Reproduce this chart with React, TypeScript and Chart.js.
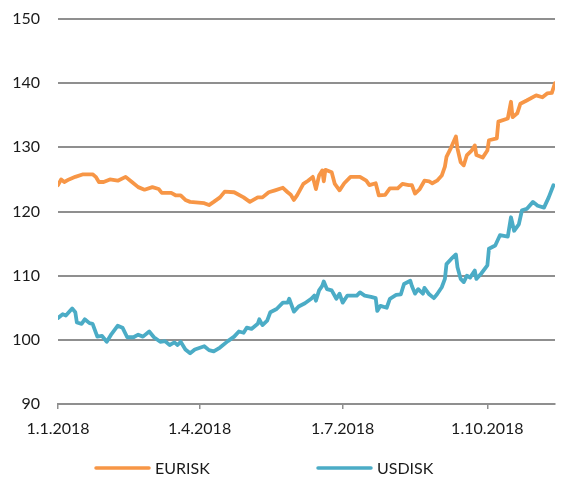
import React, { useEffect, useRef } from "react";
import { Chart, registerables } from "chart.js";

Chart.register(...registerables);

// Days since 1.1.2018
const eurDays = [0, 2, 4, 7, 11, 16, 22, 24, 26, 29, 33, 38, 43, 47, 51, 55, 60, 64, 66, 72, 75, 78, 81, 84, 93, 96, 99, 103, 106, 112, 118, 122, 127, 130, 134, 138, 143, 146, 148, 150, 152, 154, 156, 159, 162, 164, 166, 168, 169, 170, 174, 176, 179, 182, 186, 192, 196, 198, 202, 204, 208, 211, 216, 219, 223, 225, 227, 230, 233, 236, 238, 241, 244, 246, 247, 250, 253, 254, 256, 258, 260, 263, 265, 266, 270, 273, 274, 279, 280, 286, 288, 289, 292, 294, 298, 304, 308, 311, 314, 316];
const eurValues = [124.1, 125.0, 124.6, 125.0, 125.4, 125.8, 125.8, 125.4, 124.6, 124.6, 125.0, 124.8, 125.4, 124.6, 123.8, 123.4, 123.8, 123.5, 122.9, 122.9, 122.5, 122.5, 121.8, 121.5, 121.3, 121.0, 121.5, 122.2, 123.1, 123.0, 122.2, 121.5, 122.2, 122.2, 123.0, 123.3, 123.7, 123.0, 122.6, 121.8, 122.5, 123.4, 124.3, 124.8, 125.4, 123.5, 125.6, 126.4, 124.7, 126.5, 126.1, 124.3, 123.3, 124.4, 125.4, 125.4, 124.8, 124.1, 124.4, 122.5, 122.6, 123.6, 123.6, 124.3, 124.1, 124.1, 122.8, 123.5, 124.8, 124.7, 124.4, 124.8, 125.6, 127.0, 128.5, 130.0, 131.7, 129.8, 127.7, 127.2, 128.8, 129.5, 130.3, 128.8, 128.4, 129.5, 131.1, 131.4, 134.0, 134.5, 137.1, 134.7, 135.3, 136.8, 137.3, 138.1, 137.8, 138.4, 138.5, 140.0];

const usdDays = [0, 3, 5, 9, 11, 12, 15, 17, 20, 22, 25, 28, 31, 34, 38, 41, 44, 48, 51, 54, 58, 61, 65, 68, 71, 74, 76, 78, 81, 84, 87, 93, 96, 99, 103, 108, 112, 115, 118, 120, 123, 127, 128, 130, 133, 135, 139, 143, 146, 147, 150, 153, 157, 161, 163, 164, 166, 168, 169, 171, 174, 177, 179, 181, 184, 190, 192, 195, 199, 202, 203, 205, 209, 211, 215, 218, 220, 224, 225, 227, 229, 232, 233, 236, 239, 241, 244, 246, 247, 250, 253, 254, 256, 258, 260, 262, 265, 266, 269, 273, 274, 278, 281, 286, 288, 290, 293, 295, 298, 302, 305, 309, 312, 315];
const usdValues = [103.4, 104.0, 103.8, 104.9, 104.3, 102.7, 102.5, 103.2, 102.6, 102.5, 100.5, 100.6, 99.7, 100.9, 102.2, 101.9, 100.4, 100.4, 100.8, 100.5, 101.3, 100.4, 99.7, 99.8, 99.2, 99.6, 99.2, 99.7, 98.5, 97.9, 98.5, 99.0, 98.4, 98.2, 98.8, 99.8, 100.5, 101.3, 101.1, 101.9, 101.7, 102.5, 103.2, 102.3, 103.0, 104.3, 104.8, 105.8, 105.8, 106.4, 104.4, 105.2, 105.7, 106.4, 106.9, 106.1, 107.7, 108.4, 109.1, 107.9, 107.7, 106.4, 107.2, 105.8, 106.9, 106.9, 107.4, 106.9, 106.7, 106.5, 104.5, 105.3, 105.0, 106.4, 107.0, 107.1, 108.7, 109.2, 108.4, 107.2, 107.9, 107.2, 108.1, 107.1, 106.5, 107.1, 108.2, 109.5, 111.8, 112.6, 113.3, 111.3, 109.5, 109.0, 110.0, 109.7, 110.8, 109.5, 110.3, 111.6, 114.2, 114.7, 116.3, 116.1, 119.1, 117.0, 118.0, 120.2, 120.4, 121.5, 120.9, 120.6, 122.2, 124.1];

const seriesNames = ["EURISK", "USDISK"];
const seriesColors = ["#F79646", "#4BACC6"];

const xTickDays = [0, 90, 181, 273];
const xTickLabels = ["1.1.2018", "1.4.2018", "1.7.2018", "1.10.2018"];
const yTicks = [90, 100, 110, 120, 130, 140, 150];

const FONT = "Lato, 'Open Sans', sans-serif";

const legendPlugin = {
  id: "bottomLegend",
  afterDraw(chart: any) {
    const ctx = chart.ctx;
    const starts = [96, 318];
    const y = 468;
    ctx.save();
    chart.data.datasets.forEach((ds: any, i: number) => {
      const x0 = starts[i];
      ctx.strokeStyle = ds.borderColor;
      ctx.lineWidth = 3.5;
      ctx.lineCap = "round";
      ctx.beginPath();
      ctx.moveTo(x0, y);
      ctx.lineTo(x0 + 53, y);
      ctx.stroke();
      ctx.fillStyle = "#1a1a1a";
      ctx.font = "16px " + FONT;
      ctx.textBaseline = "middle";
      ctx.textAlign = "left";
      ctx.fillText(ds.label, x0 + 59, y + 1);
    });
    ctx.restore();
  },
};

export default function App() {
  const ref = useRef<HTMLCanvasElement | null>(null);

  useEffect(() => {
    if (!ref.current) return;
    const chart = new Chart(ref.current, {
      type: "line",
      data: {
        datasets: [
          {
            label: seriesNames[0],
            data: eurDays.map((d, i) => ({ x: d, y: eurValues[i] })),
            borderColor: seriesColors[0],
            backgroundColor: seriesColors[0],
            borderWidth: 3.8,
            pointRadius: 0,
            tension: 0,
            borderJoinStyle: "round",
            borderCapStyle: "round",
          },
          {
            label: seriesNames[1],
            data: usdDays.map((d, i) => ({ x: d, y: usdValues[i] })),
            borderColor: seriesColors[1],
            backgroundColor: seriesColors[1],
            borderWidth: 3.8,
            pointRadius: 0,
            tension: 0,
            borderJoinStyle: "round",
            borderCapStyle: "round",
          },
        ],
      },
      options: {
        animation: false,
        responsive: true,
        maintainAspectRatio: false,
        layout: { padding: { left: 8, right: 6, top: 19, bottom: 40 } },
        plugins: {
          legend: { display: false },
          tooltip: { enabled: false },
          title: { display: false },
        },
        scales: {
          x: {
            type: "linear",
            min: 0,
            max: 316,
            afterBuildTicks: (scale: any) => {
              scale.ticks = xTickDays.map((v) => ({ value: v }));
            },
            afterFit: (scale: any) => {
              scale.height = 40;
            },
            grid: {
              drawOnChartArea: false,
              drawTicks: true,
              tickLength: 5,
              color: "#8f8f8f",
              lineWidth: 1.5,
            },
            border: { display: true, color: "#8f8f8f", width: 2 },
            ticks: {
              autoSkip: false,
              maxRotation: 0,
              padding: 10,
              color: "#1a1a1a",
              font: { family: FONT, size: 16 },
              callback: (v: any) => {
                const idx = xTickDays.indexOf(Number(v));
                return idx >= 0 ? xTickLabels[idx] : "";
              },
            },
          },
          y: {
            min: 90,
            max: 150,
            afterBuildTicks: (scale: any) => {
              scale.ticks = yTicks.map((v) => ({ value: v }));
            },
            afterFit: (scale: any) => {
              scale.width = 50;
              scale.paddingTop = 0;
              scale.paddingBottom = 0;
            },
            grid: {
              drawTicks: false,
              color: "#8f8f8f",
              lineWidth: 2,
            },
            border: { display: false },
            ticks: {
              padding: 18,
              color: "#1a1a1a",
              font: { family: FONT, size: 16 },
            },
          },
        },
      },
      plugins: [legendPlugin],
    });
    return () => chart.destroy();
  }, []);

  return (
    <div style={{ position: "absolute", left: 0, top: 0, width: 561, height: 484 }}>
      <canvas ref={ref} />
    </div>
  );
}
